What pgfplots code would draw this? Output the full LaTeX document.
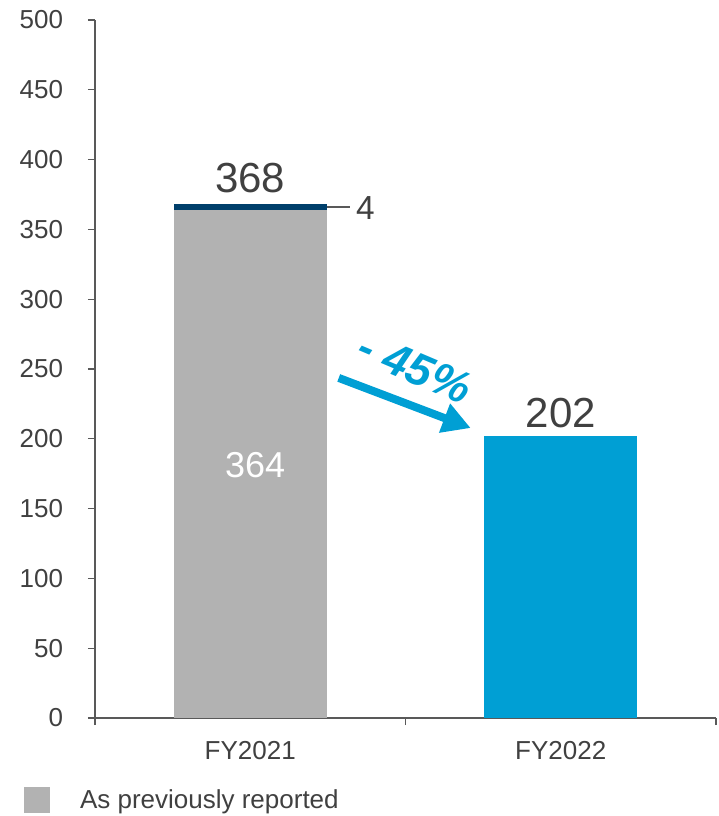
\documentclass[border=0pt]{standalone}
\usepackage{pgfplots}
\pgfplotsset{compat=1.18}
\usepackage{fontspec}
\setmainfont{Liberation Sans}
\usetikzlibrary{arrows.meta}
\definecolor{barGray}{HTML}{B2B2B2}
\definecolor{navy}{HTML}{003F6B}
\definecolor{cblue}{HTML}{009FD4}
\definecolor{txt}{HTML}{404040}
\definecolor{axc}{HTML}{595959}
\begin{document}
\begin{tikzpicture}
\path (0,0) rectangle (538.5pt,612pt);
\begin{axis}[
  at={(71.25pt,73.5pt)}, anchor=south west,
  scale only axis, width=465.75pt, height=523.5pt,
  xmin=-0.5, xmax=1.5, ymin=0, ymax=500,
  axis lines*=left,
  axis line style={color=axc, line width=0.9pt},
  ybar stacked, bar width=114.75pt,
  xtick={0,1}, xticklabels={FY2021,FY2022},
  minor xtick={-0.5,0.5,1.5},
  ytick={0,50,...,500},
  major x tick style={draw=none},
  tick align=outside,
  major tick length=5.25pt, minor tick length=5.25pt,
  every tick/.style={color=axc, line width=0.9pt},
  /pgf/number format/assume math mode=true,
  tick label style={font=\fontsize{19.5}{20}\selectfont, text=txt, inner sep=0pt},
  yticklabel style={anchor=east, xshift=-18.5pt},
  xticklabel style={anchor=north, yshift=-12pt},
  legend style={at={(-0.1143,-0.118)}, anchor=west, draw=none, fill=none,
    inner sep=0pt, outer sep=0pt,
    font=\fontsize{19.5}{20}\selectfont, text=txt,
    /tikz/every even column/.append style={column sep=0pt}},
  legend cell align=left,
  legend image code/.code={\fill[barGray] (0pt,-9.75pt) rectangle (19.5pt,9.75pt);},
  legend style={nodes={inner sep=0pt}},
  clip=false,
]
\addplot[fill=barGray, draw=none] coordinates {(0,364) (1,0)};
\addlegendentry{\hspace{22.5pt}As previously reported}
\addplot[fill=navy, draw=none, forget plot] coordinates {(0,4) (1,0)};
\addplot[fill=cblue, draw=none, forget plot] coordinates {(0,0) (1,202)};
\coordinate (a368) at (axis cs:0,387);
\coordinate (a202) at (axis cs:1.0,218.5);
\coordinate (a364) at (axis cs:0.016,181);
\coordinate (l1) at (axis cs:0.247,366);
\coordinate (l2) at (axis cs:0.32,366);
\coordinate (a4) at (axis cs:0.34,365);
\coordinate (ar1) at (axis cs:0.285,243.6);
\coordinate (ar2) at (axis cs:0.71,207.7);
\coordinate (apct) at (axis cs:0.53,251);
\end{axis}
\node[text=txt, font=\fontsize{31.5}{32}\selectfont] at (a368) {368};
\node[text=txt, font=\fontsize{31.5}{32}\selectfont] at (a202) {202};
\node[text=white, font=\fontsize{27}{28}\selectfont] at (a364) {364};
\draw[axc, line width=0.9pt] (l1) -- (l2);
\node[text=txt, font=\fontsize{25}{26}\selectfont, anchor=west, inner sep=0pt] at (a4) {4};
\draw[cblue, line width=6pt, -{Triangle[length=21pt,width=22pt]}] (ar1) -- (ar2);
\node[text=cblue, font=\fontsize{34}{34}\selectfont\bfseries\itshape, rotate=-23] at (apct) {- 45\%};
\end{tikzpicture}
\end{document}
